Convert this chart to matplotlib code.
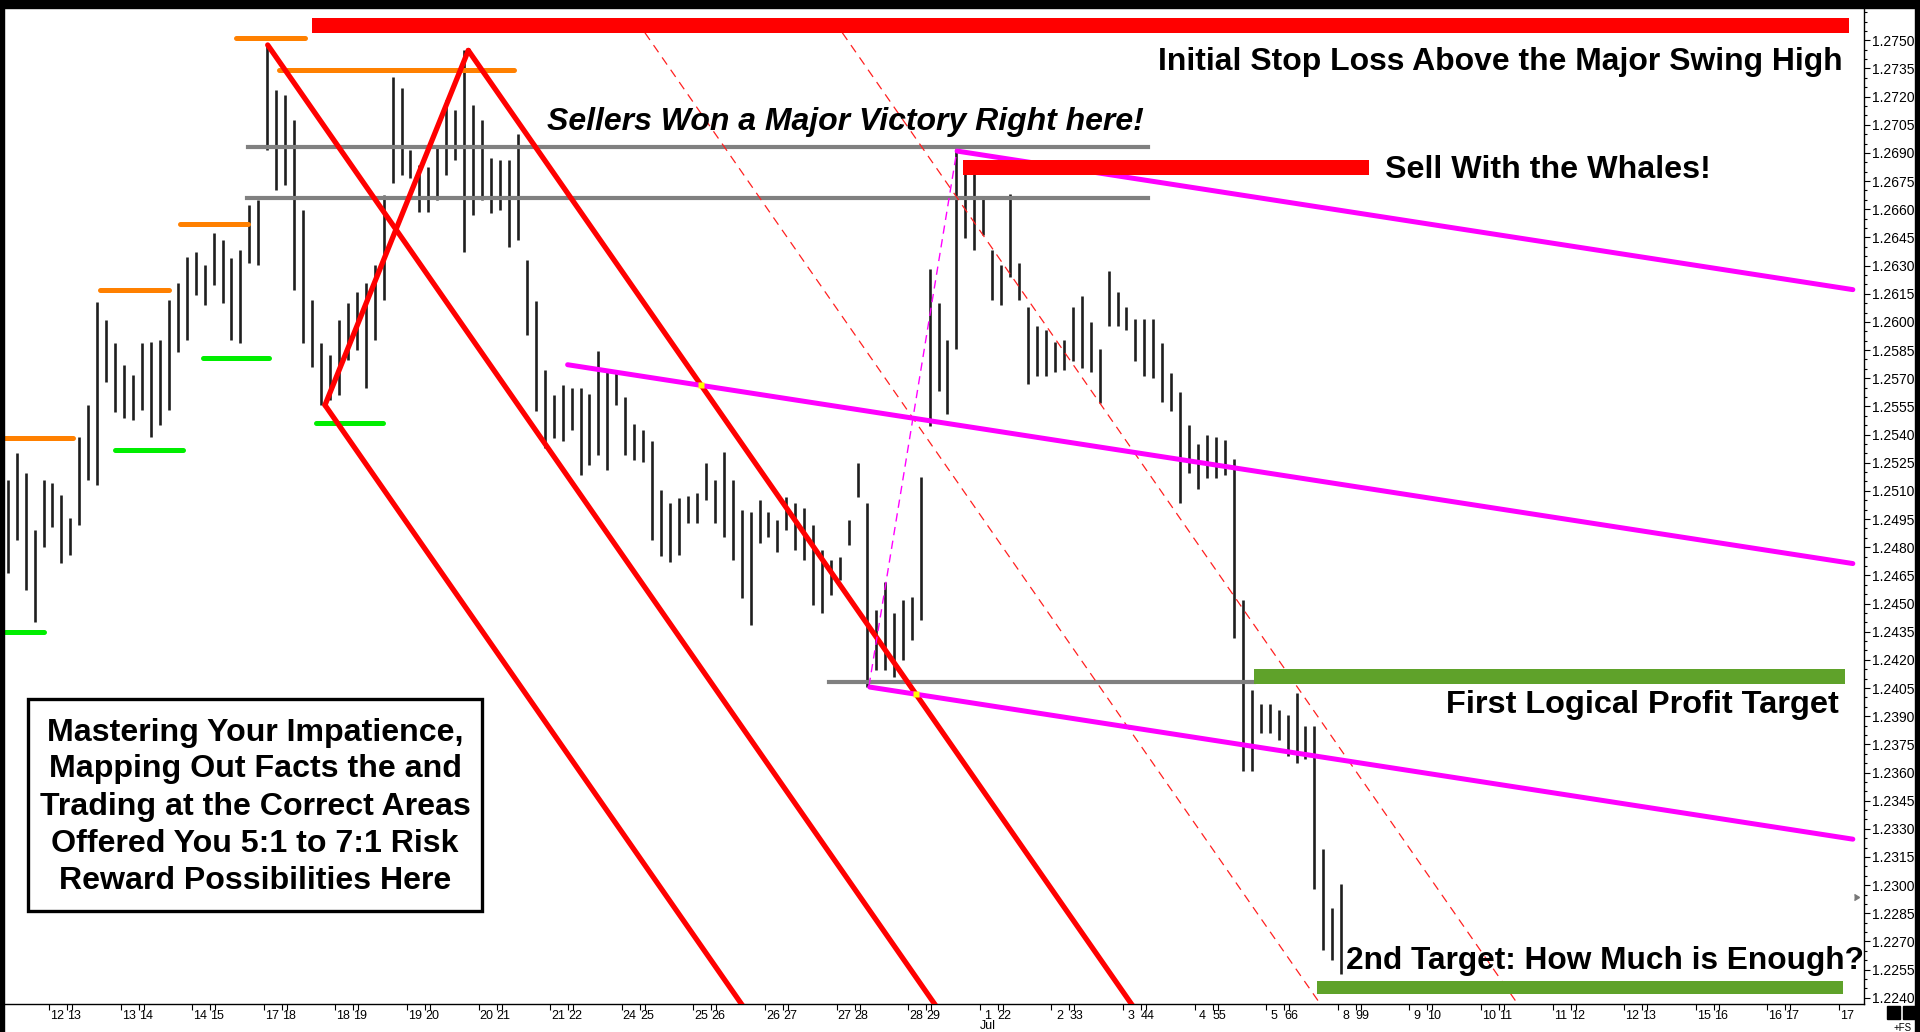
import matplotlib
matplotlib.use("Agg")
import matplotlib.pyplot as plt
from matplotlib.patches import Rectangle
import numpy as np

plt.rcParams['font.family'] = ['Liberation Sans', 'DejaVu Sans']

# ---------------- data ----------------
# 3-hour price bars (8 per day); day 0 = the "12 13" date group
bar_start_day = -0.8
bars_per_day = 8
highs = [1.25158, 1.25302, 1.25196, 1.24892, 1.25158, 1.25142, 1.25078, 1.24956, 1.25387, 1.25558,
         1.26106, 1.26010, 1.25888, 1.25771, 1.25718, 1.25888, 1.25893, 1.25904, 1.26117, 1.26208,
         1.26346, 1.26373, 1.26303, 1.26474, 1.26437, 1.26341, 1.26383, 1.26623, 1.26650, 1.27475,
         1.27236, 1.27209, 1.27076, 1.26596, 1.26117, 1.25888, 1.25824, 1.26010, 1.26101, 1.26160,
         1.26208, 1.26303, 1.26676, 1.27305, 1.27246, 1.26916, 1.26836, 1.26825, 1.26943, 1.27182,
         1.27129, 1.27449, 1.27156, 1.27076, 1.26873, 1.26863, 1.26863, 1.27001, 1.26330, 1.26112,
         1.25744, 1.25611, 1.25664, 1.25648, 1.25648, 1.25616, 1.25845, 1.25744, 1.25734, 1.25600,
         1.25457, 1.25425, 1.25366, 1.25105, 1.25036, 1.25062, 1.25073, 1.25089, 1.25249, 1.25158,
         1.25307, 1.25158, 1.24998, 1.24988, 1.25052, 1.24988, 1.24945, 1.25068, 1.25036, 1.25009,
         1.24919, 1.24785, 1.24732, 1.24748, 1.24945, 1.25249, 1.25036, 1.24466, 1.24615, 1.24450,
         1.24519, 1.24535, 1.25174, 1.26282, 1.26101, 1.25904, 1.26921, 1.26836, 1.26793, 1.26671,
         1.26383, 1.26303, 1.26682, 1.26314, 1.26080, 1.25979, 1.25957, 1.25893, 1.25904, 1.26080,
         1.26138, 1.26000, 1.25856, 1.26271, 1.26160, 1.26080, 1.26016, 1.26016, 1.26016, 1.25888,
         1.25728, 1.25627, 1.25451, 1.25350, 1.25398, 1.25387, 1.25371, 1.25270, 1.24519, 1.24040,
         1.23965, 1.23965, 1.23933, 1.23906, 1.24024, 1.23848, 1.23848, 1.23193, 1.22878, 1.23006]
lows = [1.24663, 1.24839, 1.24572, 1.24402, 1.24801, 1.24908, 1.24716, 1.24759, 1.24919, 1.25158,
        1.25132, 1.25680, 1.25520, 1.25489, 1.25478, 1.25531, 1.25387, 1.25451, 1.25531, 1.25840,
        1.25904, 1.26144, 1.26090, 1.26197, 1.26101, 1.25904, 1.25888, 1.26314, 1.26303, 1.26916,
        1.26703, 1.26730, 1.26170, 1.25888, 1.25760, 1.25558, 1.25584, 1.25611, 1.25797, 1.25851,
        1.25648, 1.25904, 1.26117, 1.26740, 1.26783, 1.26767, 1.26586, 1.26586, 1.26650, 1.26783,
        1.26863, 1.26373, 1.26570, 1.26650, 1.26580, 1.26596, 1.26399, 1.26437, 1.25931, 1.25526,
        1.25329, 1.25382, 1.25366, 1.25425, 1.25185, 1.25238, 1.25291, 1.25212, 1.25558, 1.25291,
        1.25265, 1.25254, 1.24839, 1.24754, 1.24722, 1.24759, 1.24929, 1.24929, 1.25052, 1.24929,
        1.24855, 1.24732, 1.24530, 1.24386, 1.24823, 1.24855, 1.24775, 1.24892, 1.24785, 1.24732,
        1.24492, 1.24450, 1.24546, 1.24626, 1.24812, 1.25068, 1.24056, 1.24146, 1.24146, 1.24109,
        1.24199, 1.24306, 1.24413, 1.25446, 1.25632, 1.25510, 1.25856, 1.26447, 1.26383, 1.26463,
        1.26117, 1.26090, 1.26240, 1.26117, 1.25670, 1.25712, 1.25712, 1.25734, 1.25744, 1.25792,
        1.25755, 1.25734, 1.25568, 1.25979, 1.25979, 1.25957, 1.25792, 1.25712, 1.25702, 1.25574,
        1.25526, 1.25036, 1.25196, 1.25110, 1.25169, 1.25169, 1.25185, 1.24317, 1.23608, 1.23608,
        1.23811, 1.23811, 1.23773, 1.23688, 1.23651, 1.23672, 1.22980, 1.22655, 1.22601, 1.22527]

# x-axis date groups (two labels per trading day)
date_groups = [("12", "13"), ("13", "14"), ("14", "15"), ("17", "18"), ("18", "19"), ("19", "20"),
               ("20", "21"), ("21", "22"), ("24", "25"), ("25", "26"), ("26", "27"), ("27", "28"),
               ("28", "29"), ("1", "22"), ("2", "33"), ("3", "44"), ("4", "55"), ("5", "66"),
               ("8", "99"), ("9", "10"), ("10", "11"), ("11", "12"), ("12", "13"), ("15", "16"),
               ("16", "17"), ("17", None)]
y_ticks = [round(1.2240 + 0.0015 * i, 4) for i in range(35)]

# swing levels: (day start, day end, price)
orange_levels = [(2.39, 3.35, 1.2751), (2.99, 6.27, 1.2734), (1.61, 2.56, 1.2652),
                 (0.49, 1.45, 1.2617), (-0.84, 0.11, 1.2538)]
green_levels = [(1.93, 2.85, 1.2581), (3.51, 4.44, 1.2546), (0.70, 1.65, 1.2532),
                (-0.84, -0.29, 1.2435)]
gray_levels = [(2.56, 15.13, 1.2693), (2.54, 15.13, 1.2666), (10.67, 16.6, 1.2408)]

# zones: (day start, day end, price low, price high)
stop_zone = (3.45, 24.92, 1.2754, 1.2762)
sell_zone = (12.54, 18.21, 1.2678, 1.2686)
target1_zone = (16.61, 24.86, 1.2407, 1.2415)
target2_zone = (17.49, 24.83, 1.2242, 1.2249)

# pivots (day, price)
high1 = (2.831, 1.27475)
low1 = (3.631, 1.25557)
high2 = (5.633, 1.27446)
swing_low = (11.229, 1.24061)
swing_high = (12.458, 1.26916)
red_slope = -0.005484
dashed_red_starts = [(8.10, 1.2754), (10.857, 1.2754)]
magenta_starts = [(12.46, 1.2691), (7.02, 1.25772), (11.24, 1.24055)]
magenta_slope = -0.00059
magenta_end = 24.97

# ---------------- figure ----------------
W, H = 1920, 1032
fig = plt.figure(figsize=(19.2, 10.32), dpi=100)
fig.patch.set_facecolor('white')


def fx(x):
    return x / W


def fy(y):
    return 1 - y / H


ax = fig.add_axes([fx(4), fy(1004), fx(1864) - fx(4), fy(8) - fy(1004)])
ax.set_xlim(-0.852, 25.126)
ax.set_ylim(1.22367, 1.27672)
ax.set_facecolor('white')
for s in ['top', 'left']:
    ax.spines[s].set_visible(False)
for s in ['right', 'bottom']:
    ax.spines[s].set_color('black')
    ax.spines[s].set_linewidth(1.0)

# price bars
xs = bar_start_day + np.arange(len(highs)) / bars_per_day
ax.vlines(xs, lows, highs, color='#1e1e1e', linewidth=1.9, zorder=2)

# horizontal levels
for d0, d1, p in orange_levels:
    ax.plot([d0, d1], [p, p], color='#ff8000', lw=3.6, solid_capstyle='round', zorder=3)
for d0, d1, p in green_levels:
    ax.plot([d0, d1], [p, p], color='#00ee00', lw=3.6, solid_capstyle='round', zorder=3)
for d0, d1, p in gray_levels:
    ax.plot([d0, d1], [p, p], color='#808080', lw=3.0, zorder=3)


def ray(start, slope, p_end=1.2225):
    d0, p0 = start
    d1 = d0 + (p_end - p0) / slope
    return [d0, d1], [p0, p_end]


# red channel lines
for st in [high1, low1, high2]:
    xx, yy = ray(st, red_slope)
    ax.plot(xx, yy, color='#ff0000', lw=3.8, solid_capstyle='round', zorder=4)
ax.plot([low1[0], high2[0]], [low1[1], high2[1]], color='#ff0000', lw=3.8,
        solid_capstyle='round', zorder=4)

# dashed red parallels
for st in dashed_red_starts:
    xx, yy = ray(st, red_slope)
    ax.plot(xx, yy, color='#ff2020', lw=0.9, dashes=(7, 5), zorder=3)

# magenta lines
for d0, p0 in magenta_starts:
    ax.plot([d0, magenta_end], [p0, p0 + magenta_slope * (magenta_end - d0)],
            color='#ff00ff', lw=3.6, solid_capstyle='round', zorder=4)
ax.plot([swing_low[0], swing_high[0]], [swing_low[1], swing_high[1]],
        color='#ff00ff', lw=1.0, dashes=(6, 4), zorder=4)

# yellow intersection markers (red channel x magenta)
for d0, p0 in magenta_starts[1:]:
    dc, pc = high2
    dd = (p0 - magenta_slope * d0 - pc + red_slope * dc) / (red_slope - magenta_slope)
    pp = pc + red_slope * (dd - dc)
    ax.plot(dd, pp, 's', color='yellow', ms=4, mec='none', zorder=5)

# zones
for (d0, d1, p0, p1), col in [(stop_zone, '#ff0000'), (sell_zone, '#ff0000'),
                              (target1_zone, '#5fa22a'), (target2_zone, '#5fa22a')]:
    ax.add_patch(Rectangle((d0, p0), d1 - d0, p1 - p0, facecolor=col, edgecolor='none', zorder=5))

# axes ticks
ax.yaxis.tick_right()
ax.set_yticks(y_ticks)
ax.set_yticklabels([f"{v:.4f}" for v in y_ticks])
ax.set_yticks(np.arange(1.2240, 1.2766, 0.0005), minor=True)
ax.tick_params(axis='y', which='major', direction='out', length=4, width=0.8, pad=2,
               labelsize=10, colors='black')
ax.tick_params(axis='y', which='minor', direction='out', length=2, width=0.8)

major_x, minor_x, minor_lab = [], [], []
for i, (a, b) in enumerate(date_groups):
    major_x.append(i - 0.223)
    minor_x.append(i - 0.112)
    minor_lab.append(a)
    if b is not None:
        major_x += [i + 0.028, i + 0.098]
        minor_x.append(i + 0.126)
        minor_lab.append(b)
ax.set_xticks(major_x)
ax.set_xticklabels([''] * len(major_x))
ax.set_xticks(minor_x, minor=True)
ax.set_xticklabels(minor_lab, minor=True)
ax.tick_params(axis='x', which='major', direction='out', length=4, width=0.8)
ax.tick_params(axis='x', which='minor', length=0, pad=4, labelsize=9)
fig.text(fx(988), fy(1026), "Jul", ha='center', va='center', fontsize=9)

# current price marker
ax.plot(25.05, 1.22937, marker=5, color='#777777', ms=5, clip_on=False, zorder=6)

# screenshot frame
fig.add_artist(Rectangle((0, fy(8)), 1, 8 / H, transform=fig.transFigure, color='black', zorder=20))
fig.add_artist(Rectangle((0, 0), 4 / W, 1, transform=fig.transFigure, color='black', zorder=20))
fig.add_artist(Rectangle((fx(1915), 0), 5 / W, 1, transform=fig.transFigure, color='black', zorder=20))
for x0 in [1887, 1903]:
    fig.add_artist(Rectangle((fx(x0), fy(1019)), 13 / W, 13 / H, transform=fig.transFigure,
                             color='black', zorder=20))
fig.text(fx(1903), fy(1028), "+FS", ha='center', va='center', fontsize=7)

# annotations
renderer = fig.canvas.get_renderer()


def fit(t, target_w):
    bb = t.get_window_extent(renderer=renderer)
    t.set_fontsize(t.get_fontsize() * target_w / bb.width)


t = fig.text(fx(1843), fy(62), "Initial Stop Loss Above the Major Swing High", ha='right',
             va='center', fontsize=20, fontweight='bold', zorder=30)
fit(t, 683)
t = fig.text(fx(845), fy(122), "Sellers Won a Major Victory Right here!", ha='center',
             va='center', fontsize=20, fontweight='bold', fontstyle='italic', zorder=30)
fit(t, 598)
t = fig.text(fx(1385), fy(170), "Sell With the Whales!", ha='left', va='center',
             fontsize=20, fontweight='bold', zorder=30)
fit(t, 326)
t = fig.text(fx(1839), fy(705), "First Logical Profit Target", ha='right', va='center',
             fontsize=20, fontweight='bold', zorder=30)
fit(t, 392)
t = fig.text(fx(1346), fy(961), "2nd Target: How Much is Enough?", ha='left', va='center',
             fontsize=20, fontweight='bold', zorder=30)
fit(t, 518)

fig.add_artist(Rectangle((fx(28), fy(911)), (482 - 28) / W, (911 - 699) / H,
                         transform=fig.transFigure, facecolor='white', edgecolor='black',
                         linewidth=2.4, zorder=25))
box_lines = ["Mastering Your Impatience,", "Mapping Out Facts the and",
             "Trading at the Correct Areas", "Offered You 5:1 to 7:1 Risk",
             "Reward Possibilities Here"]
box_y = [733, 769.5, 807.5, 844, 881]
ref = fig.text(0, 0, box_lines[2], fontsize=20, fontweight='bold')
fit(ref, 430)
bs = ref.get_fontsize()
ref.remove()
for line, yy in zip(box_lines, box_y):
    fig.text(fx(255), fy(yy), line, ha='center', va='center', fontsize=bs,
             fontweight='bold', zorder=30)

fig.savefig("out.png", dpi=100, facecolor='white')
